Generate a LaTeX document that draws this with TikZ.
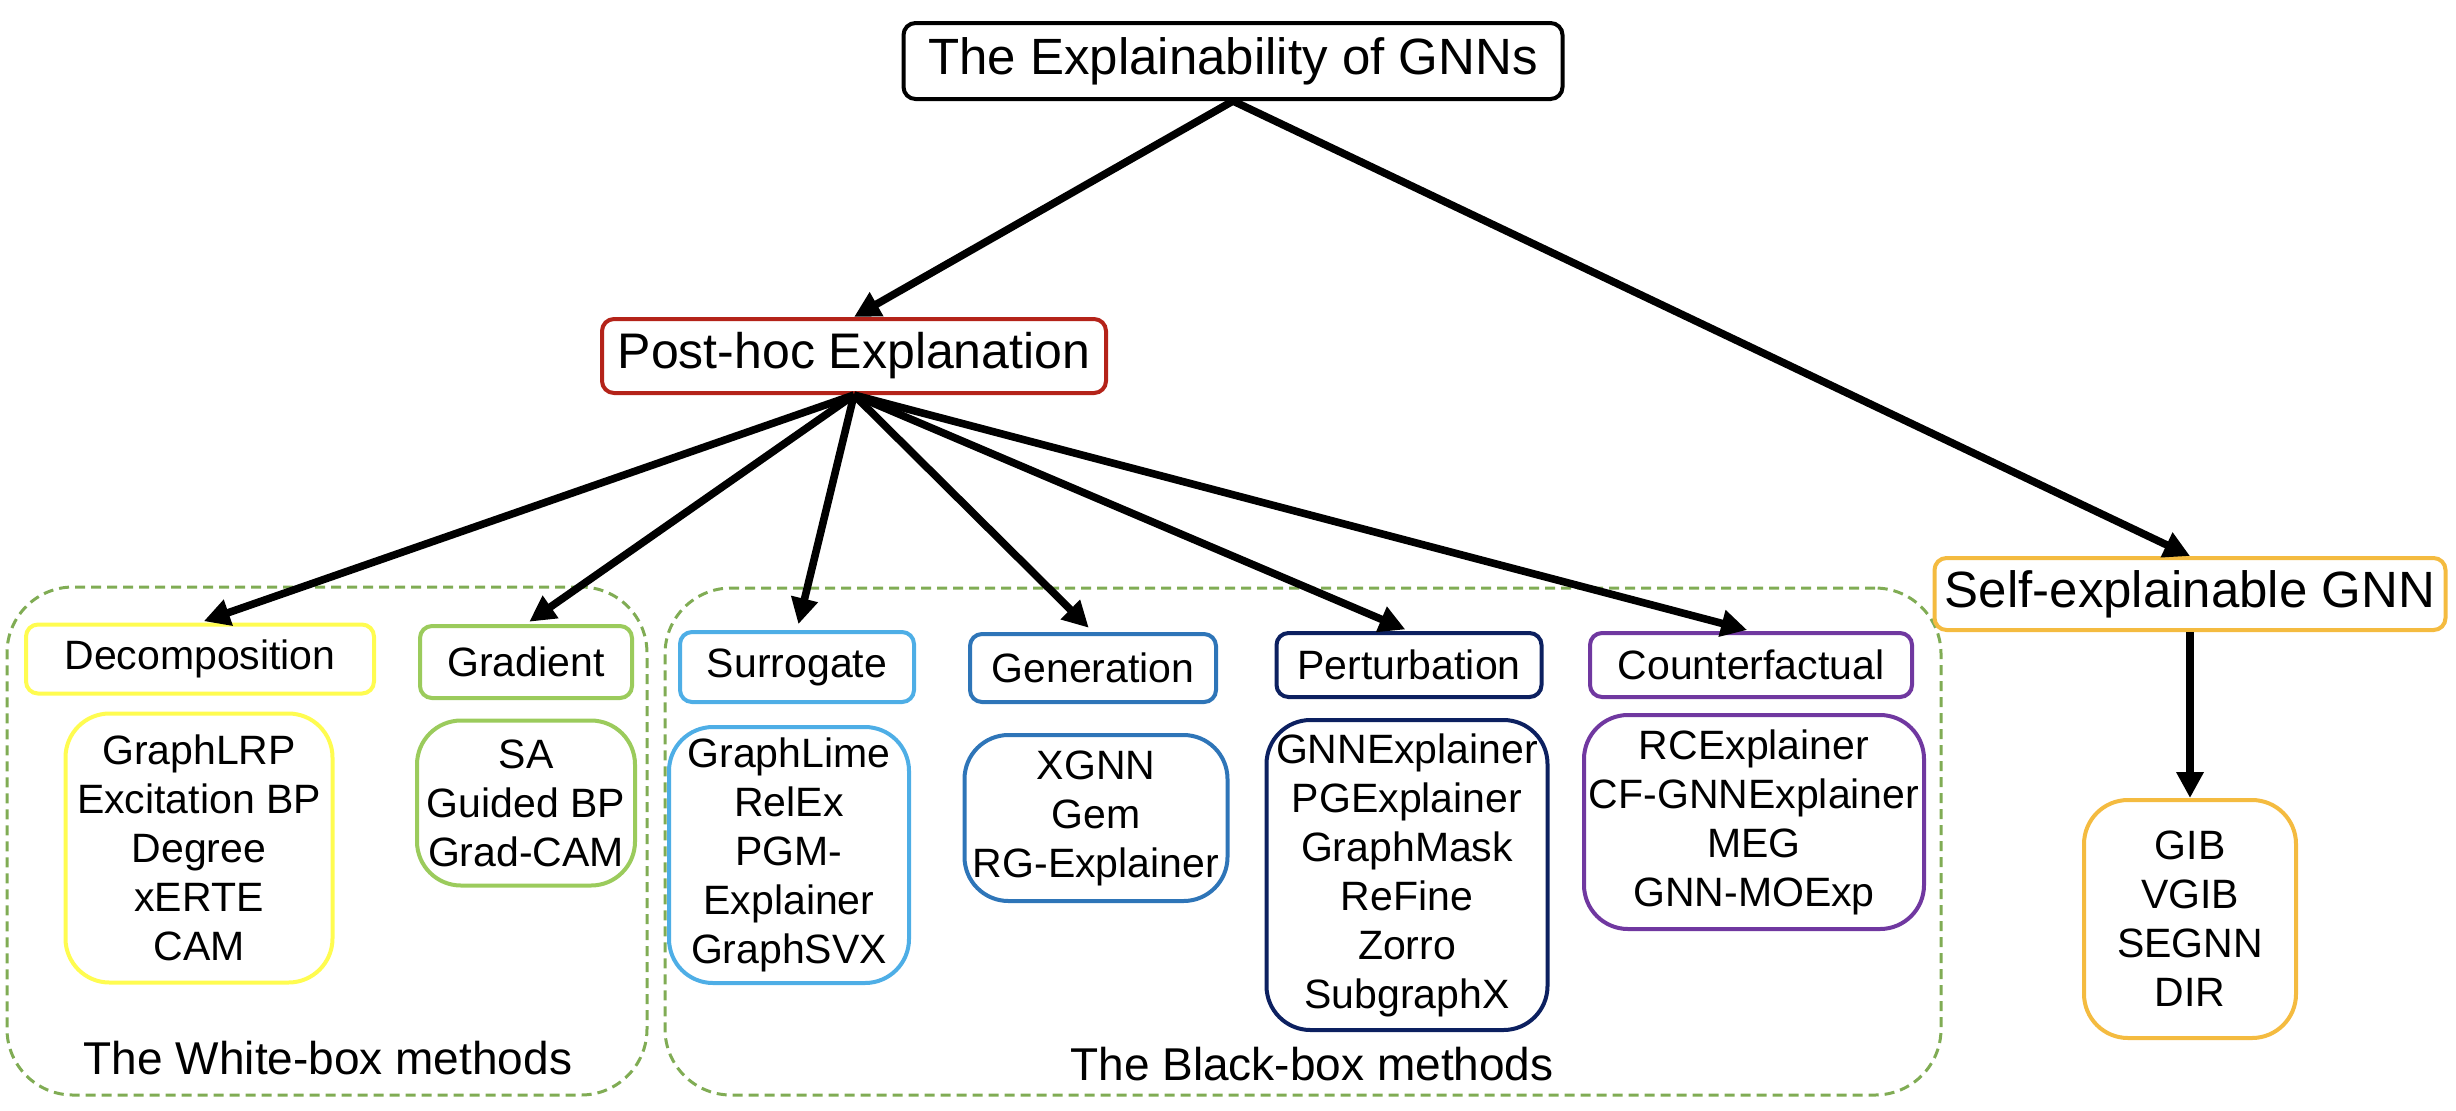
\documentclass[tikz,border=0pt]{standalone}
\usepackage{fontspec}
\setmainfont{Liberation Sans}
\usetikzlibrary{arrows.meta}
\definecolor{cred}{RGB}{180,35,25}
\definecolor{corange}{RGB}{244,187,64}
\definecolor{cgreen}{RGB}{128,172,84}
\definecolor{cgrad}{RGB}{155,203,92}
\definecolor{cyellow}{RGB}{255,252,80}
\definecolor{clblue}{RGB}{78,174,230}
\definecolor{cmblue}{RGB}{46,117,184}
\definecolor{cnavy}{RGB}{12,32,96}
\definecolor{cpurple}{RGB}{112,56,160}
\begin{document}
\begin{tikzpicture}[x=0.5pt,y=-0.5pt,
  box/.style={draw, rounded corners=6pt, fill=white, inner sep=0pt, line width=2pt, align=center, font=\fontsize{20.5}{24.5}\selectfont},
  listbox/.style={box, rounded corners=22pt},
  cont/.style={draw=cgreen, dash pattern=on 5pt off 3pt, rounded corners=33pt, line width=1.5pt, inner sep=0pt},
  clabel/.style={inner sep=0pt, font=\fontsize{23}{27}\selectfont},
  arr/.style={-{Triangle[length=13pt,width=13pt]}, line width=3.8pt}]
\useasboundingbox (0,0) rectangle (2456,1110);

% containers
\node[cont, minimum width=320pt, minimum height=254pt] (white) at (327,841) {};
\node[cont, minimum width=638pt, minimum height=253.5pt] (black) at (1303,841.5) {};
\node[clabel] (wlab) at (328,1058) {The White-box methods};
\node[clabel] (blab) at (1312,1064) {The Black-box methods};

% top levels
\node[box, draw=black, minimum width=329.5pt, minimum height=38pt, font=\fontsize{25.5}{30}\selectfont] (top) at (1233,61) {The Explainability of GNNs};
\node[box, draw=cred, minimum width=252pt, minimum height=37pt, font=\fontsize{25}{30}\selectfont] (ph) at (854,356) {Post-hoc Explanation};
\node[box, draw=corange, minimum width=255.5pt, minimum height=36pt, font=\fontsize{25.5}{30}\selectfont] (self) at (2190,594) {Self-explainable GNN};
\node[listbox, draw=corange, minimum width=106pt, minimum height=119pt] (gib) at (2190,919) {GIB\\VGIB\\SEGNN\\DIR};

% white-box
\node[box, draw=cyellow, minimum width=174pt, minimum height=34.5pt] (deco) at (200,659) {Decomposition};
\node[listbox, draw=cyellow, minimum width=133.5pt, minimum height=134.5pt] (decol) at (199,848) {GraphLRP\\Excitation BP\\Degree\\xERTE\\CAM};
\node[box, draw=cgrad, minimum width=106pt, minimum height=36pt] (grad) at (526,662) {Gradient};
\node[listbox, draw=cgrad, minimum width=109pt, minimum height=82.5pt] (gradl) at (526,803) {SA\\Guided BP\\Grad-CAM};

% black-box
\node[box, draw=clblue, minimum width=117pt, minimum height=35pt] (surr) at (797,667) {Surrogate};
\node[listbox, draw=clblue, minimum width=120pt, minimum height=128pt] (surrl) at (789,855) {GraphLime\\RelEx\\PGM-\\Explainer\\GraphSVX};
\node[box, draw=cmblue, minimum width=123pt, minimum height=34pt] (gen) at (1093,668) {Generation};
\node[listbox, draw=cmblue, minimum width=131.5pt, minimum height=83pt] (genl) at (1096,818) {XGNN\\Gem\\RG-Explainer};
\node[box, draw=cnavy, minimum width=132.5pt, minimum height=32pt] (pert) at (1409,665) {Perturbation};
\node[listbox, draw=cnavy, minimum width=140.5pt, minimum height=155pt] (pertl) at (1407,875) {GNNExplainer\\PGExplainer\\GraphMask\\ReFine\\Zorro\\SubgraphX};
\node[box, draw=cpurple, minimum width=161pt, minimum height=32pt] (cf) at (1751,665) {Counterfactual};
\node[listbox, draw=cpurple, minimum width=170pt, minimum height=107pt] (cfl) at (1754,822) {RCExplainer\\CF-GNNExplainer\\MEG\\GNN-MOExp};

% arrows
\draw[arr] (top.south) -- (ph.north);
\draw[arr] (top.south) -- (self.north);
\draw[arr] (self.south) -- (gib.north);
\draw[arr, shorten >=2pt] (ph.south) -- (deco.north);
\draw[arr, shorten >=2pt] (ph.south) -- (grad.north);
\draw[arr, shorten >=3pt] (ph.south) -- (surr.north);
\draw[arr, shorten >=3pt] (ph.south) -- (gen.north);
\draw[arr, shorten >=2pt] (ph.south) -- (pert.north);
\draw[arr, shorten >=2pt] (ph.south) -- (cf.north);
\end{tikzpicture}
\end{document}
